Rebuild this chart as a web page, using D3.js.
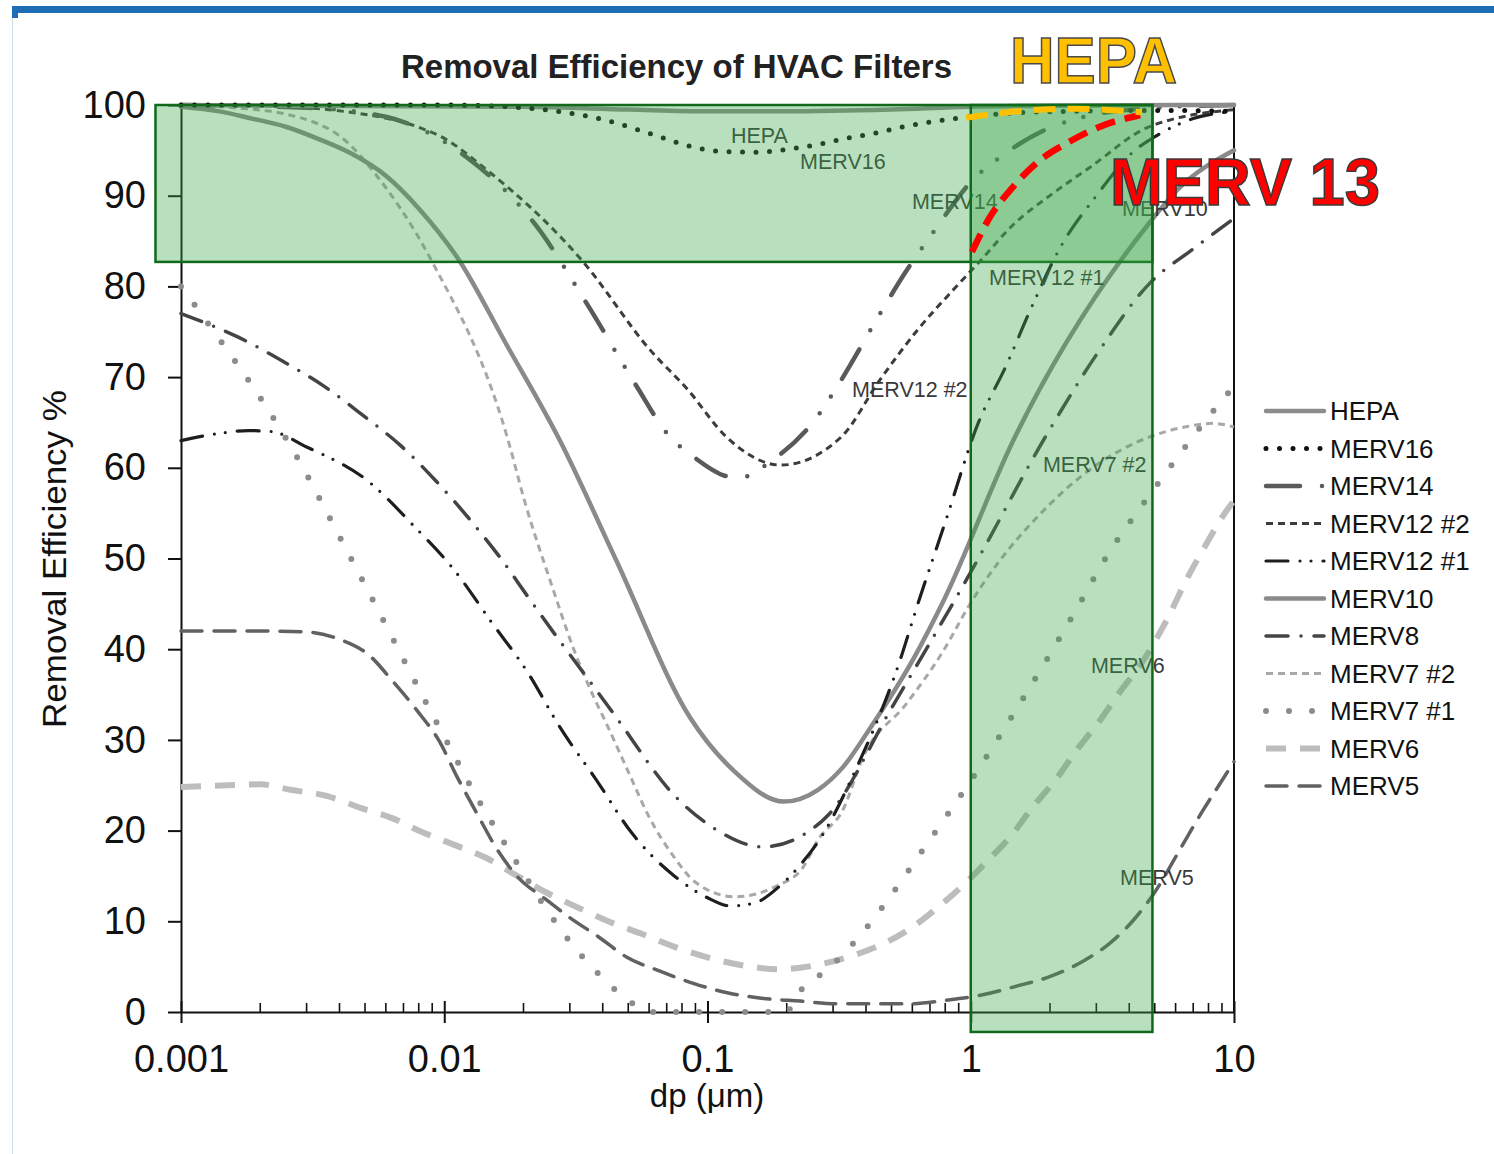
<!DOCTYPE html>
<html><head><meta charset="utf-8">
<script src="https://cdn.jsdelivr.net/npm/d3@7"></script>
<style>body{margin:0;background:#fff;} svg{display:block;}</style>
</head><body>
<svg id="chart" width="1494" height="1154"></svg>
<script>
// ---------------- data ----------------
const xTicks = [0.001, 0.01, 0.1, 1, 10];
const xTickLabels = ["0.001", "0.01", "0.1", "1", "10"];
const yTicks = [0, 10, 20, 30, 40, 50, 60, 70, 80, 90, 100];

const HEPA = [[0.001,100],[0.02,99.8],[0.05,99.5],[0.1,99.3],[0.2,99.3],[0.5,99.5],[1,99.8],[3,99.95],[10,100]];
const MERV16 = [[0.001,100],[0.01,100],[0.02,99.7],[0.03,99.1],[0.04,98.4],[0.0627,96.7],[0.0873,95.4],[0.111,94.9],[0.15,94.8],[0.223,95.3],[0.278,95.8],[0.346,96.4],[0.435,96.9],[0.552,97.6],[0.694,98.1],[0.864,98.5],[1.7,99.2],[5,99.4],[10,99.3]];
const MERV14 = [[0.001,100],[0.003,99.7],[0.006,98.7],[0.0121,94.3],[0.0222,86.8],[0.0348,78.1],[0.0535,69.1],[0.0702,63.8],[0.0896,61.1],[0.117,59.1],[0.128,58.9],[0.139,59.0],[0.172,60.6],[0.259,65.5],[0.31,68.9],[0.472,77.9],[0.563,81.5],[0.738,86.4],[1.0,91.5],[1.3,94.3],[2.0,97.5],[2.69,98.7],[5,99.7],[10,100]];
const MERV12_2 = [[0.001,100],[0.002,99.9],[0.0044,99.2],[0.0079,97.6],[0.0099,96.4],[0.014,93.2],[0.0337,82.7],[0.0605,73],[0.0842,68.6],[0.118,63.4],[0.19,60.3],[0.322,63.4],[0.452,69.7],[0.628,75.2],[0.876,79.9],[1.07,82.6],[1.45,86.8],[2.04,90.2],[2.86,93.2],[4.68,97.5],[10,99.5]];
const MERV12_1 = [[0.001,63],[0.0014,63.8],[0.0018,64.1],[0.0022,64],[0.003,62.3],[0.0051,58.6],[0.0076,53.7],[0.011,48.6],[0.0151,43],[0.0208,37.4],[0.0275,31.4],[0.0378,25.6],[0.0517,19.7],[0.0748,15],[0.1,12.6],[0.122,11.7],[0.15,12],[0.19,14],[0.225,16.2],[0.28,20],[0.356,26],[0.539,38.8],[0.625,44.7],[0.8,54],[1.07,65],[1.35,71],[1.72,78],[2.16,84],[3,90],[4.2,95],[5,96.5],[7,98.5],[10,99.3]];
const MERV10 = [[0.001,99.8],[0.0014,99.3],[0.0018,98.6],[0.0025,97.6],[0.0033,96.3],[0.0044,94.7],[0.006,92.2],[0.008,88.6],[0.0115,82.7],[0.017,73.9],[0.0275,63],[0.045,49.8],[0.0857,32.5],[0.128,26.4],[0.195,23.2],[0.263,24.5],[0.327,27],[0.417,31.4],[0.61,39.1],[0.79,45.4],[1.45,63],[4.8,87.1],[6.07,90.6],[10,95]];
const MERV8 = [[0.001,77],[0.00165,74.4],[0.00242,71.8],[0.00349,69],[0.0049,65.8],[0.0068,62.5],[0.0094,58.4],[0.0125,54.3],[0.0164,50],[0.021,45.6],[0.027,41.2],[0.035,36.8],[0.0437,33],[0.077,23.5],[0.108,20.1],[0.162,18.2],[0.245,20],[0.287,21.7],[0.5,33.5],[1,48.5],[1.92,63.4],[3.04,72.7],[4.84,80.5],[6.9,84],[10,87.5]];
const MERV7_2 = [[0.001,100],[0.00158,99.7],[0.0025,99],[0.00439,95.6],[0.0052,93.2],[0.009,82.7],[0.0173,63.5],[0.0203,56.1],[0.0257,46.9],[0.0314,39.6],[0.037,34.7],[0.0407,32.2],[0.05,26.5],[0.06,21.5],[0.075,17],[0.09,14.3],[0.127,12.7],[0.18,13.8],[0.23,15.9],[0.263,19],[0.327,22.3],[0.39,28.1],[0.57,34],[0.79,39.9],[0.98,44.7],[2,56],[3,60.3],[3.74,62],[5,63.6],[6.5,64.5],[8.3,64.9],[10,64.5]];
const MERV7_1 = [[0.001,80],[0.00143,73.8],[0.00181,69.6],[0.00251,63.2],[0.0045,49.6],[0.00868,33.7],[0.0105,29.2],[0.0127,24.7],[0.0156,20.3],[0.0194,15.9],[0.0241,11.6],[0.0305,7.5],[0.0401,3.7],[0.0465,2],[0.055,0.5],[0.062,0],[0.2,0],[0.217,1.7],[0.294,5],[0.387,8.7],[0.496,12.8],[0.7,19],[1,25.5],[1.5,33.5],[2.6,45.1],[3.17,49.5],[5.04,57.9],[9.35,68],[10,69]];
const MERV6 = [[0.001,24.8],[0.0015,25],[0.002,25.1],[0.0026,24.5],[0.0036,23.8],[0.0048,22.5],[0.0063,21.4],[0.0083,19.8],[0.011,18.4],[0.0144,17],[0.0187,15.1],[0.0243,13.2],[0.0323,11.5],[0.0428,9.9],[0.0565,8.6],[0.0765,7.1],[0.139,5.1],[0.186,4.7],[0.252,5.1],[0.336,6],[0.447,7.3],[0.589,9.2],[0.747,11.5],[0.93,13.9],[1.17,16.8],[1.43,19.5],[1.73,22.7],[2.1,25.6],[2.53,28.9],[3.07,32],[3.69,35.3],[4.49,38.6],[5.5,43],[6.69,48],[7.78,51.4],[9.13,54.8],[10,56.4]];
const MERV5 = [[0.001,42],[0.002,42],[0.003,41.9],[0.0039,41.2],[0.0052,39.3],[0.0064,36.4],[0.0079,33.2],[0.0096,29.8],[0.0112,25.9],[0.0133,21.9],[0.0159,17.9],[0.019,14.9],[0.0241,12.5],[0.03,10.4],[0.0385,8.3],[0.049,6.1],[0.066,4.5],[0.0895,3.1],[0.12,2.1],[0.163,1.5],[0.225,1.2],[0.313,0.9],[0.434,0.9],[0.59,0.9],[0.81,1.3],[1.11,1.9],[1.47,2.8],[2.04,4],[2.67,5.6],[3.38,7.6],[4.17,10.2],[5,13.2],[6.2,17.8],[7.5,21.9],[8.9,25.3],[10,27.6]];

// highlighted curves (annotation)
const MERV13_band = [[1.01,83.8],[1.18,87.6],[1.44,90.9],[1.83,93.9],[2.32,95.8],[3.03,97.5],[4.4,98.9]];
const HEPA_band = [[0.96,98.6],[1.5,99.3],[2.5,99.6],[4.47,99.2]];

// highlight boxes in data space
const boxes = [
  {x0: 0.0008, x1: 4.9, y0: 82.7, y1: 100},
  {x0: 1, x1: 4.9, y0: -2.2, y1: 100}
];

const seriesNames = ["HEPA","MERV16","MERV14","MERV12 #2","MERV12 #1","MERV10","MERV8","MERV7 #2","MERV7 #1","MERV6","MERV5"];
const seriesData = [HEPA, MERV16, MERV14, MERV12_2, MERV12_1, MERV10, MERV8, MERV7_2, MERV7_1, MERV6, MERV5];

// in-plot curve labels: [text, dp, efficiency]
const curveLabels = [
  ["HEPA", 0.1228, 95.8],
  ["MERV16", 0.2246, 92.9],
  ["MERV14", 0.598, 88.5],
  ["MERV12 #1", 1.173, 80.2],
  ["MERV12 #2", 0.354, 67.8],
  ["MERV10", 3.754, 87.8],
  ["MERV7 #2", 1.88, 59.5],
  ["MERV6", 2.862, 37.4],
  ["MERV5", 3.69, 14.0]
];

// ---------------- styles ----------------
const styles = [
  {color:"#8c8c8c", width:4.5, dash:null, cap:"round"},
  {color:"#111111", width:5, dash:"0 13.5", cap:"round"},
  {color:"#5a5a5a", width:4.5, dash:"34 22 0 20 0 21", cap:"round"},
  {color:"#3c3c3c", width:3, dash:"7 5", cap:"butt"},
  {color:"#1e1e1e", width:3.2, dash:"22 12 0 11 0 12", cap:"round"},
  {color:"#8a8a8a", width:4.5, dash:null, cap:"round"},
  {color:"#444444", width:3.5, dash:"22 13 0 13", cap:"round"},
  {color:"#a8a8a8", width:3, dash:"7 5", cap:"butt"},
  {color:"#8c8c8c", width:6, dash:"0 23", cap:"round"},
  {color:"#bdbdbd", width:6, dash:"20 14", cap:"butt"},
  {color:"#616161", width:3.5, dash:"21 12", cap:"round"}
];

const svg = d3.select("#chart");
const FONT = "'Liberation Sans', Arial, Helvetica, sans-serif";

// page decoration
svg.append("rect").attr("x",12).attr("y",6).attr("width",1482).attr("height",7).attr("fill","#1f6db5");
svg.append("rect").attr("x",12).attr("y",13).attr("width",6).attr("height",5).attr("fill","#1f6db5");
svg.append("line").attr("x1",12.5).attr("x2",12.5).attr("y1",18).attr("y2",1154).attr("stroke","#d3dde8").attr("stroke-width",1);

const x = d3.scaleLog().domain([0.001, 10]).range([181, 1234]);
const y = d3.scaleLinear().domain([0, 100]).range([1012, 105]);

// ---------------- axes ----------------
const yAxis = svg.append("g").attr("transform","translate(181,0)")
  .call(d3.axisLeft(y).tickValues(yTicks).tickSize(13).tickSizeOuter(0).tickPadding(22).tickFormat(d => d));
yAxis.select(".domain").attr("stroke","#111").attr("stroke-width",2);
yAxis.selectAll(".tick line").attr("stroke","#111").attr("stroke-width",2);
yAxis.selectAll(".tick text").attr("font-family",FONT).attr("font-size",38).attr("fill","#111");

const xAxis = svg.append("g").attr("transform","translate(0,1012)")
  .call(d3.axisBottom(x).tickValues(xTicks).tickSize(11).tickSizeOuter(0).tickPadding(22).tickFormat((d,i) => xTickLabels[i]));
xAxis.select(".domain").attr("stroke","#111").attr("stroke-width",2);
xAxis.selectAll(".tick line").attr("stroke","#111").attr("stroke-width",2).attr("y1",-11);
xAxis.selectAll(".tick text").attr("font-family",FONT).attr("font-size",38).attr("fill","#111");

// minor ticks
const minor = [];
xTicks.slice(0,-1).forEach(d => { for (let m = 2; m <= 9; m++) minor.push(d*m); });
svg.append("g").selectAll("line").data(minor).join("line")
  .attr("x1", d => x(d)).attr("x2", d => x(d))
  .attr("y1", 1012).attr("y2", 1003)
  .attr("stroke","#111").attr("stroke-width",1.6);

// right frame
svg.append("line").attr("x1",1234).attr("x2",1234).attr("y1",y(100)).attr("y2",1012)
  .attr("stroke","#111").attr("stroke-width",2);

// axis titles
svg.append("text").attr("x",707).attr("y",1107).attr("text-anchor","middle")
  .attr("font-family",FONT).attr("font-size",33).attr("fill","#111").text("dp (μm)");
svg.append("text").attr("transform","translate(66,559) rotate(-90)").attr("text-anchor","middle")
  .attr("font-family","'Liberation Sans Narrow', " + FONT).attr("font-size",33).attr("fill","#111")
  .attr("textLength",338).attr("lengthAdjust","spacingAndGlyphs").text("Removal Efficiency %");

// ---------------- curves ----------------
const line = d3.line().x(d => x(d[0])).y(d => y(d[1])).curve(d3.curveMonotoneX);
const order = [9,10,8,7,6,5,4,3,2,0,1];
order.forEach(i => {
  const s = styles[i];
  svg.append("path").datum(seriesData[i]).attr("d", line)
    .attr("fill","none").attr("stroke", s.color).attr("stroke-width", s.width)
    .attr("stroke-dasharray", s.dash).attr("stroke-linecap", s.cap);
});

// in-plot labels
svg.append("g").selectAll("text").data(curveLabels).join("text")
  .attr("x", d => x(d[1])).attr("y", d => y(d[2]))
  .attr("font-family",FONT).attr("font-size",21.5).attr("fill","#3a3a3a")
  .text(d => d[0]);

// ---------------- highlight boxes ----------------
svg.append("g").selectAll("rect").data(boxes).join("rect")
  .attr("x", d => x(d.x0)).attr("y", d => y(d.y1))
  .attr("width", d => x(d.x1) - x(d.x0)).attr("height", d => y(d.y0) - y(d.y1))
  .attr("fill","rgb(60,170,75)").attr("fill-opacity",0.36)
  .attr("stroke","#0f6b1a").attr("stroke-width",2.5);

// annotation curves
svg.append("path").datum(MERV13_band).attr("d", line)
  .attr("fill","none").attr("stroke","#ff0000").attr("stroke-width",6.5).attr("stroke-dasharray","20 10");
svg.append("path").datum(HEPA_band).attr("d", d3.line().x(d => x(d[0])).y(d => y(d[1])).curve(d3.curveCatmullRom))
  .attr("fill","none").attr("stroke","#ffc000").attr("stroke-width",6).attr("stroke-dasharray","22 12");

// ---------------- titles ----------------
svg.append("text").attr("x",401).attr("y",78)
  .attr("font-family","'Liberation Sans Narrow', " + FONT).attr("font-weight","bold").attr("font-size",33).attr("fill","#222")
  .attr("textLength",551).attr("lengthAdjust","spacingAndGlyphs").text("Removal Efficiency of HVAC Filters");
svg.append("text").attr("x",1010).attr("y",83)
  .attr("font-family",FONT).attr("font-weight","bold").attr("font-size",64).attr("fill","#ffc000")
  .attr("stroke","#4a4a4a").attr("stroke-width",1.5)
  .attr("textLength",167).attr("lengthAdjust","spacingAndGlyphs").text("HEPA");
svg.append("text").attr("x",1110).attr("y",205)
  .attr("font-family",FONT).attr("font-weight","bold").attr("font-size",66).attr("fill","#ff0000")
  .attr("stroke","#3a3a3a").attr("stroke-width",1.5)
  .attr("textLength",270).attr("lengthAdjust","spacingAndGlyphs").text("MERV 13");

// ---------------- legend ----------------
const lg = svg.append("g").selectAll("g").data(seriesNames).join("g")
  .attr("transform", (d,i) => `translate(0,${411 + i*37.5})`);
lg.append("line").attr("x1",1266).attr("x2",1324).attr("y1",0).attr("y2",0)
  .attr("stroke",(d,i) => styles[i].color).attr("stroke-width",(d,i) => styles[i].width)
  .attr("stroke-dasharray",(d,i) => styles[i].dash).attr("stroke-linecap",(d,i) => styles[i].cap);
lg.append("text").attr("x",1330).attr("y",9).attr("font-family",FONT).attr("font-size",26).attr("fill","#111")
  .text(d => d);
</script>
</body></html>
